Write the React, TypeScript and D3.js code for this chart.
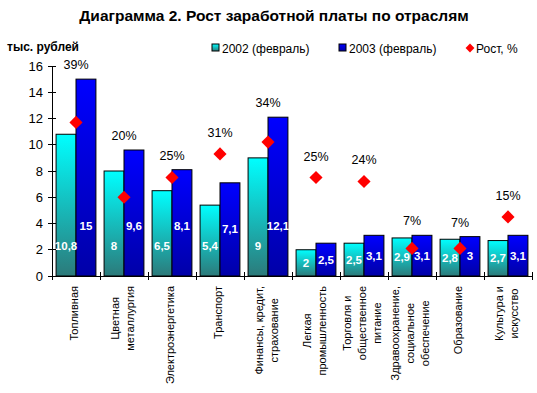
import React, { useEffect, useRef } from "react";
import * as d3 from "d3";

const categories = [
  "Топливная",
  "Цветная\nметаллургия",
  "Электроэнергетика",
  "Транспорт",
  "Финансы, кредит,\nстрахование",
  "Легкая\nпромышленность",
  "Торговля и\nобщественное\nпитание",
  "Здравоохранение,\nсоциальное\nобеспечение",
  "Образование",
  "Культура и\nискусство",
];
const wage2002 = [10.8, 8, 6.5, 5.4, 9, 2, 2.5, 2.9, 2.8, 2.7];
const wage2003 = [15, 9.6, 8.1, 7.1, 12.1, 2.5, 3.1, 3.1, 3, 3.1];
const growthPct = [39, 20, 25, 31, 34, 25, 24, 7, 7, 15];
const yTicks = [0, 2, 4, 6, 8, 10, 12, 14, 16];
const seriesNames = ["2002 (февраль)", "2003 (февраль)", "Рост, %"];

const App = () => {
  const svgRef = useRef<SVGSVGElement>(null);

  useEffect(() => {
    const width = 537;
    const height = 393;
    const left = 52;
    const right = 532;
    const top = 66;
    const bottom = 276;
    const font = "'Liberation Sans', Arial, sans-serif";

    const svg = d3.select(svgRef.current);
    svg.selectAll("*").remove();
    svg
      .attr("width", width)
      .attr("height", height)
      .attr("viewBox", [0, 0, width, height])
      .style("font-family", font);

    const defs = svg.append("defs");
    const grad = (id: string, c1: string, c2: string) => {
      const g = defs
        .append("linearGradient")
        .attr("id", id)
        .attr("x1", 0)
        .attr("y1", 0)
        .attr("x2", 0)
        .attr("y2", 1);
      g.append("stop").attr("offset", "0%").attr("stop-color", c1);
      g.append("stop").attr("offset", "100%").attr("stop-color", c2);
    };
    grad("g2002", "#00ffff", "#2c7a7a");
    grad("g2003", "#0000ff", "#0000a8");

    const x = d3
      .scaleBand()
      .domain(categories)
      .range([left, right])
      .paddingInner(0.17)
      .paddingOuter(0.085);
    const step = x.step();
    const xs = d3
      .scaleBand()
      .domain(["a", "b"])
      .range([0, x.bandwidth()]);
    const y = d3.scaleLinear().domain([0, 16]).range([bottom, top]);
    // hidden secondary axis for the growth markers
    const yPct = d3.scaleLinear().domain([0, 53.33]).range([bottom, top]);
    const fmt = (v: number) => String(v).replace(".", ",");
    const cx = (i: number) => left + step * i + step / 2;

    // title
    svg
      .append("text")
      .attr("x", 274)
      .attr("y", 21)
      .attr("text-anchor", "middle")
      .style("font-size", "15.5px")
      .style("font-weight", "bold")
      .text("Диаграмма 2. Рост заработной платы по отраслям");

    svg
      .append("text")
      .attr("x", 7)
      .attr("y", 51)
      .style("font-size", "12px")
      .style("font-weight", "bold")
      .text("тыс. рублей");

    // legend
    const legend = svg.append("g").attr("transform", "translate(0,48)");
    const lx = [212, 339, 466];
    legend
      .append("rect")
      .attr("x", lx[0])
      .attr("y", -4)
      .attr("width", 7)
      .attr("height", 7)
      .attr("fill", "url(#g2002)")
      .attr("stroke", "#000");
    legend
      .append("rect")
      .attr("x", lx[1])
      .attr("y", -4)
      .attr("width", 7)
      .attr("height", 7)
      .attr("fill", "url(#g2003)")
      .attr("stroke", "#000");
    legend
      .append("path")
      .attr("d", d3.symbol(d3.symbolDiamond2, 50)())
      .attr("transform", `translate(${lx[2] + 4},0)`)
      .attr("fill", "#ff0000");
    seriesNames.forEach((s, i) => {
      legend
        .append("text")
        .attr("x", lx[i] + 10)
        .attr("y", 4.5)
        .style("font-size", "12px")
        .text(s);
    });

    // bars
    const bars = svg
      .append("g")
      .selectAll("g")
      .data(categories)
      .join("g")
      .attr("transform", (d) => `translate(${x(d)},0)`);

    bars
      .append("rect")
      .attr("x", xs("a")!)
      .attr("width", xs.bandwidth())
      .attr("y", (d, i) => y(wage2002[i]))
      .attr("height", (d, i) => bottom - y(wage2002[i]))
      .attr("fill", "url(#g2002)")
      .attr("stroke", "#000")
      .attr("stroke-width", 1);
    bars
      .append("rect")
      .attr("x", xs("b")!)
      .attr("width", xs.bandwidth())
      .attr("y", (d, i) => y(wage2003[i]))
      .attr("height", (d, i) => bottom - y(wage2003[i]))
      .attr("fill", "url(#g2003)")
      .attr("stroke", "#000")
      .attr("stroke-width", 1);

    // value labels inside bars
    bars
      .append("text")
      .attr("x", xs("a")! + xs.bandwidth() / 2)
      .attr("y", (d, i) => bottom - Math.min((bottom - y(wage2002[i])) / 2, 30) + 4)
      .attr("text-anchor", "middle")
      .style("font-size", "11.5px")
      .style("font-weight", "bold")
      .attr("fill", "#fff")
      .text((d, i) => fmt(wage2002[i]));
    bars
      .append("text")
      .attr("x", xs("b")! + xs.bandwidth() / 2)
      .attr("y", (d, i) => bottom - Math.min((bottom - y(wage2003[i])) / 2, 50) + 4)
      .attr("text-anchor", "middle")
      .style("font-size", "11.5px")
      .style("font-weight", "bold")
      .attr("fill", "#fff")
      .text((d, i) => fmt(wage2003[i]));

    // axes
    const axis = svg.append("g").attr("stroke", "#000").attr("shape-rendering", "crispEdges");
    axis.append("line").attr("x1", left).attr("x2", left).attr("y1", top).attr("y2", bottom);
    axis.append("line").attr("x1", left).attr("x2", right).attr("y1", bottom).attr("y2", bottom);
    yTicks.forEach((t) => {
      axis
        .append("line")
        .attr("x1", left - 4)
        .attr("x2", left + 4)
        .attr("y1", y(t))
        .attr("y2", y(t));
    });
    d3.range(categories.length + 1).forEach((i) => {
      axis
        .append("line")
        .attr("x1", left + step * i)
        .attr("x2", left + step * i)
        .attr("y1", bottom - 4)
        .attr("y2", bottom + 4);
    });
    svg
      .append("g")
      .selectAll("text")
      .data(yTicks)
      .join("text")
      .attr("x", 43)
      .attr("y", (d) => y(d) + 4.5)
      .attr("text-anchor", "end")
      .style("font-size", "13px")
      .text((d) => d);

    // growth markers
    svg
      .append("g")
      .selectAll("path")
      .data(growthPct)
      .join("path")
      .attr("d", d3.symbol(d3.symbolDiamond2, 110)())
      .attr("transform", (d, i) => `translate(${cx(i)},${yPct(d)})`)
      .attr("fill", "#ff0000");

    svg
      .append("g")
      .selectAll("text")
      .data(growthPct)
      .join("text")
      .attr("x", (d, i) => cx(i))
      .attr("y", (d, i) => {
        const topMost = Math.min(y(wage2002[i]), y(wage2003[i]), yPct(d) - 7);
        return topMost - 10;
      })
      .attr("text-anchor", "middle")
      .style("font-size", "12.5px")
      .text((d) => `${d}%`);

    // rotated category labels, block top aligned under the axis
    const lineH = 15;
    categories.forEach((c, i) => {
      const lines = c.split("\n");
      const g = svg.append("g");
      const texts = lines.map((ln) =>
        g
          .append("text")
          .attr("text-anchor", "middle")
          .style("font-size", "11px")
          .text(ln)
      );
      const maxLen = d3.max(texts, (t) => (t.node() as SVGTextElement).getComputedTextLength()) || 0;
      const n = lines.length;
      texts.forEach((t, j) => {
        t.attr("x", 0).attr("y", (j - (n - 1) / 2) * lineH + 4);
      });
      g.attr("transform", `translate(${cx(i) - 2},${286 + maxLen / 2}) rotate(-90)`);
    });
  }, []);

  return (
    <svg
      ref={svgRef}
      style={{ position: "absolute", left: 0, top: 0, background: "#fff" }}
    ></svg>
  );
};

export default App;
